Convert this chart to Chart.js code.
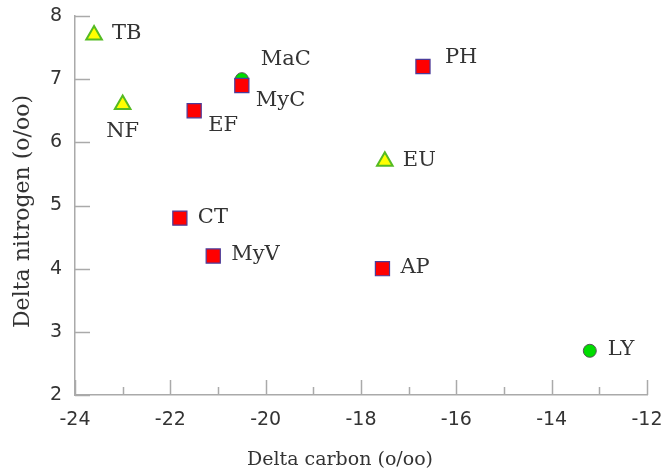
<!DOCTYPE html>
<html>
<head>
<meta charset="utf-8">
<script src="https://cdn.jsdelivr.net/npm/chart.js@4.4.1/dist/chart.umd.min.js"></script>
<style>
  html, body { margin: 0; padding: 0; background: #ffffff; }
  #wrap { width: 667px; height: 473px; position: relative; }
</style>
</head>
<body>
<div id="wrap"><canvas id="c" width="667" height="473"></canvas></div>
<script>
// ---- data ----
const squareLabels = ['EF', 'MyC', 'PH', 'CT', 'MyV', 'AP'];
const squareCarbon = [-21.5, -20.5, -16.7, -21.8, -21.1, -17.55];
const squareNitrogen = [6.5, 6.9, 7.2, 4.8, 4.2, 4.0];

const triangleLabels = ['TB', 'NF', 'EU'];
const triangleCarbon = [-23.6, -23.0, -17.5];
const triangleNitrogen = [7.7, 6.6, 5.7];

const circleLabels = ['MaC', 'LY'];
const circleCarbon = [-20.5, -13.2];
const circleNitrogen = [7.0, 2.7];

// label placement relative to its point (by name)
const labelPlacement = {
  TB: 'right', NF: 'below', EF: 'belowRight', MaC: 'aboveRight', MyC: 'belowRight',
  PH: 'aboveRight2', EU: 'right', CT: 'right', MyV: 'right', AP: 'right', LY: 'right'
};

const xTicks = [-24, -22, -20, -18, -16, -14, -12];
const xMinorTicks = [-23, -21, -19, -17, -15, -13];
const yTicks = [2, 3, 4, 5, 6, 7, 8];

const xTitle = 'Delta carbon (o/oo)';
const yTitle = 'Delta nitrogen (o/oo)';

function pts(xs, ys) { return xs.map((x, i) => ({ x: x, y: ys[i] })); }

const AXIS_COLOR = '#aaaaaa';
const TEXT_COLOR = '#333333';

const placementOffsets = {
  right: [18, -1, 'left'],
  below: [0, 27, 'center'],
  belowRight: [14, 15, 'left'],
  aboveRight: [19, -20, 'left'],
  aboveRight2: [22, -9, 'left']
};

const annotatePlugin = {
  id: 'annotate',
  afterDatasetsDraw(chart) {
    const ctx = chart.ctx;
    const xs = chart.scales.x, ys = chart.scales.y;
    const area = chart.chartArea;
    ctx.save();
    // inward tick marks
    ctx.strokeStyle = AXIS_COLOR;
    ctx.lineWidth = 1.5;
    ctx.beginPath();
    yTicks.forEach(v => {
      const py = Math.round(ys.getPixelForValue(v)) + 0.5;
      ctx.moveTo(area.left, py); ctx.lineTo(area.left + 15, py);
    });
    xTicks.forEach(v => {
      const px = Math.round(xs.getPixelForValue(v)) + 0.5;
      ctx.moveTo(px, area.bottom); ctx.lineTo(px, area.bottom - 15);
    });
    xMinorTicks.forEach(v => {
      const px = Math.round(xs.getPixelForValue(v)) + 0.5;
      ctx.moveTo(px, area.bottom); ctx.lineTo(px, area.bottom - 8);
    });
    ctx.stroke();

    // point labels
    ctx.fillStyle = TEXT_COLOR;
    ctx.font = '21px "DejaVu Serif"';
    ctx.textBaseline = 'middle';
    chart.data.datasets.forEach((ds, di) => {
      const meta = chart.getDatasetMeta(di);
      meta.data.forEach((el, i) => {
        const name = ds.pointNames[i];
        const off = placementOffsets[labelPlacement[name] || 'right'];
        ctx.textAlign = off[2];
        ctx.fillText(name, el.x + off[0], el.y + off[1]);
      });
    });

    // axis titles
    ctx.font = '19px "DejaVu Serif"';
    ctx.textAlign = 'center';
    ctx.textBaseline = 'alphabetic';
    ctx.fillText(xTitle, 340, 465);
    ctx.font = '22px "DejaVu Serif"';
    ctx.translate(29, (area.top + area.bottom) / 2 + 6);
    ctx.rotate(-Math.PI / 2);
    ctx.fillText(yTitle, 0, 0);
    ctx.restore();
  }
};

new Chart(document.getElementById('c'), {
  type: 'scatter',
  data: {
    datasets: [
      {
        label: 'Squares',
        pointNames: squareLabels,
        data: pts(squareCarbon, squareNitrogen),
        pointStyle: 'rect',
        pointRadius: 10,
        pointHoverRadius: 10,
        backgroundColor: '#ff0000',
        borderColor: '#4b3c9a',
        borderWidth: 1.2
      },
      {
        label: 'Triangles',
        pointNames: triangleLabels,
        data: pts(triangleCarbon, triangleNitrogen),
        pointStyle: 'triangle',
        pointRadius: 9,
        pointHoverRadius: 9,
        backgroundColor: '#ffff00',
        borderColor: '#55bb22',
        borderWidth: 2
      },
      {
        label: 'Circles',
        pointNames: circleLabels,
        data: pts(circleCarbon, circleNitrogen),
        pointStyle: 'circle',
        pointRadius: 6.5,
        pointHoverRadius: 6.5,
        backgroundColor: '#00dd00',
        borderColor: '#555555',
        borderWidth: 1
      }
    ]
  },
  options: {
    responsive: false,
    animation: false,
    events: [],
    layout: { padding: { top: 16, right: 20, left: 0, bottom: 0 } },
    plugins: { legend: { display: false }, tooltip: { enabled: false } },
    scales: {
      x: {
        type: 'linear',
        min: -24, max: -12,
        afterFit: s => { s.height = 78; s.paddingLeft = 0; s.paddingRight = 0; },
        afterBuildTicks: s => { s.ticks = xTicks.map(v => ({ value: v })); },
        grid: { display: true, drawOnChartArea: false, drawTicks: false },
        border: { display: true, color: AXIS_COLOR, width: 1.5 },
        ticks: { padding: 14, color: TEXT_COLOR, font: { family: 'DejaVu Sans', size: 19 }, maxRotation: 0 }
      },
      y: {
        type: 'linear',
        min: 2, max: 8,
        afterFit: s => { s.width = 75; s.paddingTop = 0; s.paddingBottom = 0; },
        afterBuildTicks: s => { s.ticks = yTicks.map(v => ({ value: v })); },
        grid: { display: true, drawOnChartArea: false, drawTicks: false },
        border: { display: true, color: AXIS_COLOR, width: 1.5 },
        ticks: { padding: 13, color: TEXT_COLOR, font: { family: 'DejaVu Sans', size: 19 } }
      }
    }
  },
  plugins: [annotatePlugin]
});
</script>
</body>
</html>
